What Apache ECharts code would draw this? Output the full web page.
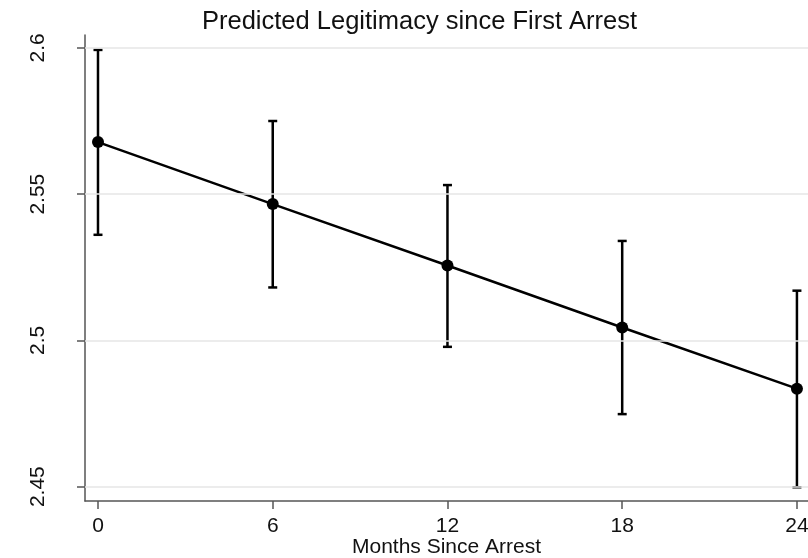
<!DOCTYPE html>
<html>
<head>
<meta charset="utf-8">
<script src="https://cdn.jsdelivr.net/npm/echarts@6/dist/echarts.min.js"></script>
<style>html,body{margin:0;padding:0;background:#fff;}#c{width:808px;height:558px;}</style>
</head>
<body>
<div id="c"></div>
<script>
const months = [0, 6, 12, 18, 24];
const predicted = [2.5678, 2.5466, 2.5256, 2.5044, 2.4835];
const lower = [2.5361, 2.5181, 2.4978, 2.4748, 2.4498];
const upper = [2.5993, 2.5750, 2.5531, 2.5340, 2.5170];
const xTicks = [0, 6, 12, 18, 24];
const yTicks = [2.45, 2.5, 2.55, 2.6];

const FONT = '"Liberation Sans", Arial, sans-serif';
const chart = echarts.init(document.getElementById('c'), null, {renderer: 'canvas'});

const errData = months.map((m, i) => [m, lower[i], upper[i]]);
const lineData = months.map((m, i) => [m, predicted[i]]);

chart.setOption({
  animation: false,
  backgroundColor: '#fff',
  title: {
    text: 'Predicted Legitimacy since First Arrest',
    left: 197, top: 4,
    textStyle: {fontFamily: FONT, fontSize: 25.5, fontWeight: 'normal', color: '#111'}
  },
  grid: {left: 85, right: 0, top: 35, bottom: 57, outerBoundsMode: 'none', containLabel: false},
  xAxis: {
    type: 'value', min: -0.446, max: 24.38,
    name: 'Months Since Arrest', nameLocation: 'middle', nameGap: 36, nameMoveOverlap: false,
    nameTextStyle: {fontFamily: FONT, fontSize: 21, color: '#111'},
    axisLine: {show: true, onZero: false, lineStyle: {color: '#555', width: 1.5}},
    axisTick: {show: true, customValues: xTicks, length: 8, lineStyle: {color: '#555', width: 1.5}},
    axisLabel: {customValues: xTicks, margin: 15, fontFamily: FONT, fontSize: 21, color: '#111'},
    splitLine: {show: false}
  },
  yAxis: {
    type: 'value', min: 2.4451, max: 2.6044,
    axisLine: {show: true, onZero: false, lineStyle: {color: '#555', width: 1.5}},
    axisTick: {show: true, customValues: yTicks, length: 8, lineStyle: {color: '#555', width: 1.5}},
    axisLabel: {customValues: yTicks, rotate: 90, margin: 36, fontFamily: FONT, fontSize: 21, color: '#111'},
    splitLine: {show: false}
  },
  series: [
    {
      type: 'line', data: [], z: 1, silent: true,
      markLine: {
        silent: true, symbol: 'none', label: {show: false}, animation: false,
        lineStyle: {color: '#e6e6e6', width: 1.5, type: 'solid'},
        data: yTicks.map(v => ({yAxis: v}))
      }
    },
    {
      type: 'custom', z: 2, silent: true,
      data: errData,
      renderItem: function (params, api) {
        const lo = api.coord([api.value(0), api.value(1)]);
        const hi = api.coord([api.value(0), api.value(2)]);
        const hw = 4.5;
        const st = {stroke: '#000', lineWidth: 2.5};
        return {
          type: 'group',
          children: [
            {type: 'line', shape: {x1: lo[0], y1: lo[1], x2: hi[0], y2: hi[1]}, style: st},
            {type: 'line', shape: {x1: lo[0] - hw, y1: lo[1], x2: lo[0] + hw, y2: lo[1]}, style: st},
            {type: 'line', shape: {x1: hi[0] - hw, y1: hi[1], x2: hi[0] + hw, y2: hi[1]}, style: st}
          ]
        };
      }
    },
    {
      type: 'line', z: 3, data: lineData,
      symbol: 'circle', symbolSize: 12,
      lineStyle: {color: '#000', width: 2.5},
      itemStyle: {color: '#000'}
    }
  ]
});
</script>
</body>
</html>
